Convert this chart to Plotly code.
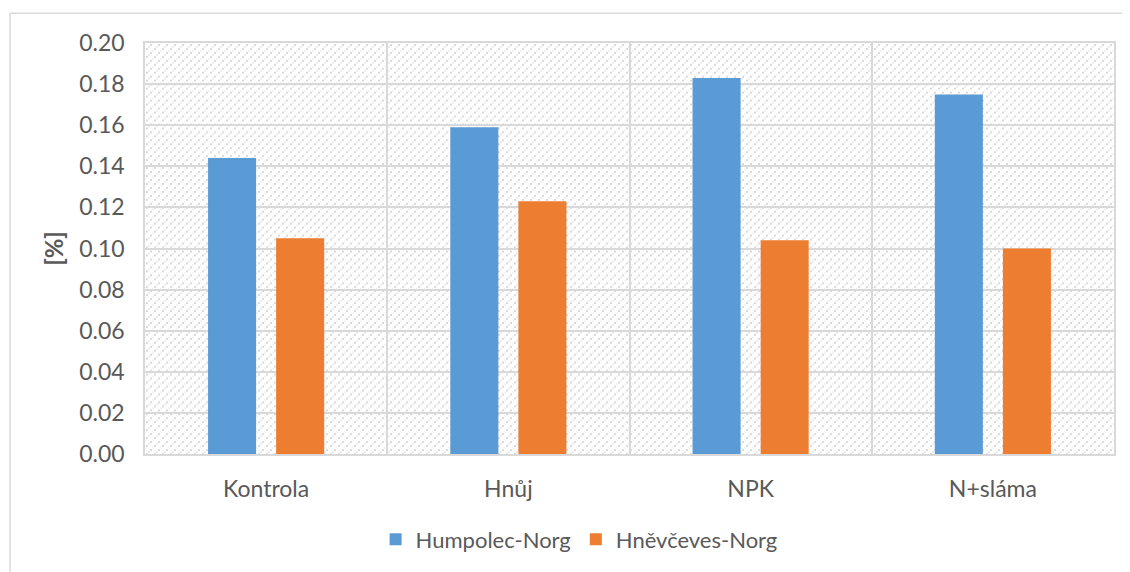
import plotly.graph_objects as go
import base64

categories = ["Kontrola", "Hnůj", "NPK", "N+sláma"]
humpolec = [0.144, 0.159, 0.183, 0.175]
hnevceves = [0.105, 0.123, 0.104, 0.100]
series_names = ["Humpolec-Norg", "Hněvčeves-Norg"]
colors = ["#5B9BD5", "#ED7D31"]
ytick_vals = [0, 0.02, 0.04, 0.06, 0.08, 0.10, 0.12, 0.14, 0.16, 0.18, 0.20]

font_family = "Lato, 'Open Sans', sans-serif"
txt = "#595959"

# background dotted-diagonal pattern as an SVG image
svg = (
    "<svg xmlns='http://www.w3.org/2000/svg' width='969' height='414'>"
    "<defs><pattern id='p' width='8' height='8' patternUnits='userSpaceOnUse'>"
    "<rect width='8' height='8' fill='white'/>"
    "<rect x='1' y='5' width='2' height='2' fill='#dadada'/>"
    "<rect x='5' y='1' width='2' height='2' fill='#dadada'/>"
    "<rect x='3' y='3' width='2' height='2' fill='#ececec'/>"
    "<rect x='7' y='7' width='1' height='1' fill='#ececec'/>"
    "<rect x='0' y='0' width='1' height='1' fill='#ececec'/>"
    "</pattern></defs>"
    "<rect width='969' height='414' fill='url(#p)'/></svg>"
)
img_src = "data:image/svg+xml;base64," + base64.b64encode(svg.encode()).decode()

fig = go.Figure()
fig.add_trace(go.Bar(x=categories, y=humpolec, name=series_names[0],
                     marker=dict(color=colors[0], line=dict(width=0))))
fig.add_trace(go.Bar(x=categories, y=hnevceves, name=series_names[1],
                     marker=dict(color=colors[1], line=dict(width=0))))

fig.update_layout(
    width=1122, height=564,
    margin=dict(l=137, r=16, t=35, b=112),
    paper_bgcolor="white",
    plot_bgcolor="rgba(0,0,0,0)",
    barmode="group",
    bargap=0.438,
    bargroupgap=0.294,
    font=dict(family=font_family, size=22, color=txt),
    showlegend=True,
    legend=dict(orientation="h", x=0.448, xanchor="center", y=-0.208, yanchor="middle",
                font=dict(size=22, color=txt), traceorder="normal",
                itemwidth=30),
    images=[dict(source=img_src, xref="paper", yref="paper", x=0, y=1,
                 sizex=1, sizey=1, sizing="stretch", layer="below", xanchor="left", yanchor="top")],
    xaxis=dict(
        type="category",
        tickson="boundaries",
        showgrid=True, gridcolor="#d9d9d9", gridwidth=1.5,
        showline=True, linecolor="#d9d9d9", linewidth=1.5, mirror=True,
        ticks="", ticklabelstandoff=14,
        tickfont=dict(size=23, color=txt),
    ),
    yaxis=dict(
        range=[0, 0.20],
        tickvals=ytick_vals,
        tickformat=".2f",
        showgrid=True, gridcolor="#d9d9d9", gridwidth=1.5,
        showline=True, linecolor="#d9d9d9", linewidth=1.5, mirror=True,
        zeroline=False,
        ticks="", ticklabelstandoff=14,
        tickfont=dict(size=23, color=txt),
        title=dict(text="<b>[%]</b>", font=dict(size=24, color=txt), standoff=9),
    ),
    shapes=[
        dict(type="line", xref="paper", yref="paper", x0=-0.1393, x1=1.2, y0=1.0725, y1=1.0725,
             line=dict(color="#d9d9d9", width=1.5)),
        dict(type="line", xref="paper", yref="paper", x0=-0.1393, x1=-0.1393, y0=1.0725, y1=-0.5,
             line=dict(color="#d9d9d9", width=1.5)),
    ],
)

fig.write_html("out.html")
